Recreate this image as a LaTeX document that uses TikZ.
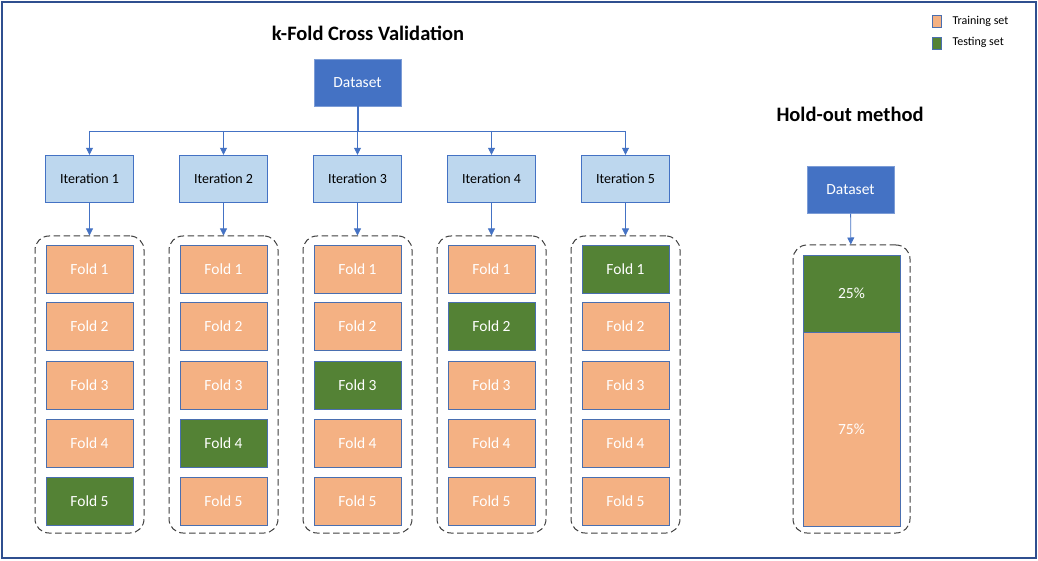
\documentclass[tikz,border=0pt]{standalone}
\usepackage{fontspec}
\setmainfont{Carlito}
\usetikzlibrary{arrows.meta,positioning}

\definecolor{dsblue}{HTML}{4472C4}
\definecolor{itblue}{HTML}{BDD7EE}
\definecolor{trainc}{HTML}{F4B183}
\definecolor{testc}{HTML}{548235}
\definecolor{edgec}{HTML}{4A6FB0}
\definecolor{framec}{HTML}{2F4F8F}

\tikzset{
  dataset/.style={draw=dsblue!70, fill=dsblue, text=white, minimum width=87pt,
    minimum height=47pt, inner sep=0pt, font=\fontsize{15.5}{18}\selectfont},
  iter/.style={draw=dsblue, fill=itblue, minimum width=88pt, minimum height=47pt,
    inner sep=0pt, font=\fontsize{14}{16}\selectfont},
  fold/.style={draw=edgec, minimum width=87pt, minimum height=48pt, inner sep=0pt,
    text=white, font=\fontsize{15.5}{18}\selectfont},
  train/.style={fold, fill=trainc},
  test/.style={fold, fill=testc},
  group/.style={draw=black!75, dash pattern=on 6.5pt off 3.5pt, line width=1pt,
    rounded corners=14pt, inner sep=0pt},
  link/.style={dsblue, line width=0.8pt, -{Triangle[length=7pt,width=7pt]}},
  title/.style={font=\bfseries\fontsize{20.5}{24}\selectfont},
  swatch/.style={draw=edgec, minimum width=9pt, minimum height=12pt, inner sep=0pt},
  legtext/.style={anchor=west, font=\fontsize{12}{14}\selectfont},
}

\begin{document}
\begin{tikzpicture}[x=1pt, y=-1pt]
    \useasboundingbox (0,0) rectangle (1038,561);
    \fill[white] (0,0) rectangle (1038,561);
    \draw[framec, line width=2pt] (2,2) rectangle (1036,558);

    % k-fold side
    \node[title] (kftitle) at (368,33) {k-Fold Cross Validation};
    \node[dataset] (data) at (357.5,82.5) {Dataset};

    \foreach \c/\x/\t in {1/89.5/5, 2/223.5/4, 3/357.5/3, 4/491.5/2, 5/625.5/1} {
        \coordinate (bar\c) at (\x,131);
        \node[iter] (it\c) at (\x,178.5) {Iteration \c};
        \node[group, minimum width=109pt, minimum height=297pt] (grp\c) at (\x,384.5) {};
        \draw[link] (bar\c) -- (it\c);
        \draw[link] (it\c) -- (grp\c);
        \foreach \k/\y in {1/269, 2/326, 3/385, 4/443, 5/501} {
            \ifnum\k=\t \def\kind{test}\else \def\kind{train}\fi
            \node[\kind] (f\c\k) at (\x,\y) {Fold \k};
        }
    }
    \draw[dsblue, line width=0.8pt] (bar1) -- (bar5);
    \draw[dsblue, line width=2pt] (data) -- (bar3);

    % hold-out side
    \node[title] (hotitle) at (850,114) {Hold-out method};
    \node[dataset] (data2) at (850.5,190) {Dataset};
    \node[group, minimum width=117pt, minimum height=288pt] (hogrp) at (851.5,389) {};
    \draw[link] (data2) -- (hogrp);
    \node[test, minimum width=97pt, minimum height=77pt] (part25) at (851.5,293.5) {25\%};
    \node[train, minimum width=97pt, minimum height=194pt] (part75) at (851.5,429) {75\%};

    % legend
    \node[swatch, fill=trainc] (lgtrain) at (936.5,21) {};
    \node[swatch, fill=testc] (lgtest) at (936.5,43) {};
    \node[legtext] (lgtraintxt) at (949,21) {Training set};
    \node[legtext] (lgtesttxt) at (949,42) {Testing set};
\end{tikzpicture}
\end{document}
